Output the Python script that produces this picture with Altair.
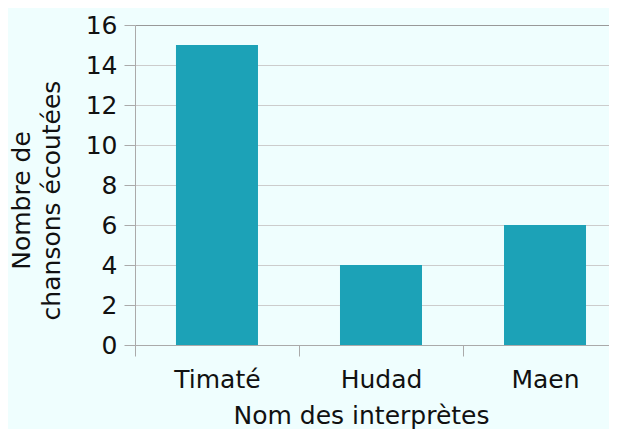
import altair as alt
import pandas as pd

artists = ["Timaté", "Hudad", "Maen"]
songs = [15, 4, 6]

df = pd.DataFrame({"artist": artists, "songs": songs})

FONT = "DejaVu Sans"
BG = "#effefe"
FS = 25

chart = alt.Chart(df).mark_bar(color="#1ca2b7").encode(
    x=alt.X(
        "artist:N",
        sort=artists,
        scale=alt.Scale(paddingInner=0.5, paddingOuter=0.195, align=0.6406),
        axis=alt.Axis(
            title="Nom des interprètes",
            labelAngle=0,
            tickOffset=-82,
            labelOffset=82,
            tickSize=11,
            tickColor="#aaaaaa",
            domainColor="#aaaaaa",
            labelPadding=11,
            labelFontSize=FS,
            labelFont=FONT,
            labelColor="#111111",
            titleFont=FONT,
            titleFontSize=FS,
            titleFontWeight="normal",
            titleColor="#111111",
            titleX=226,
            titleY=78,
            titleBaseline="alphabetic",
            titleAnchor="middle",
            titleAlign="center",
        ),
    ),
    y=alt.Y(
        "songs:Q",
        scale=alt.Scale(domain=[0, 16], nice=False),
        axis=alt.Axis(
            title=["Nombre de", "chansons écoutées"],
            values=[0, 2, 4, 6, 8, 10, 12, 14, 16],
            tickSize=11,
            tickColor="#aaaaaa",
            domainColor="#aaaaaa",
            gridColor=alt.condition("datum.value == 16", alt.value("#999999"), alt.value("#cccccc")),
            labelPadding=7,
            labelFontSize=FS,
            labelFont=FONT,
            labelColor="#111111",
            titleFont=FONT,
            titleFontSize=FS,
            titleFontWeight="normal",
            titleColor="#111111",
            titleAngle=-90,
            titleAlign="center",
            titleBaseline="top",
            titleX=-126,
            titleY=175,
            titleLineHeight=30,
        ),
    ),
).properties(
    width=474,
    height=320,
    background=BG,
    padding={"left": 127, "top": 17, "right": 0, "bottom": 84},
    autosize=alt.AutoSizeParams(type="none"),
).configure_view(stroke=None, fill=BG)

chart.save("out.html", embed_options={"renderer": "svg", "actions": False})
